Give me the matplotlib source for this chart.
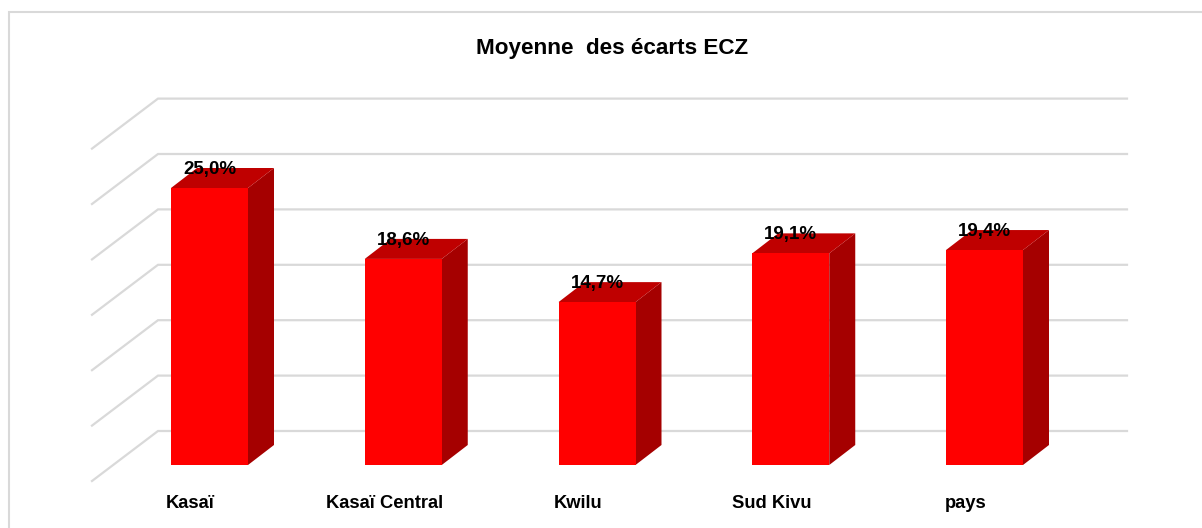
import matplotlib
matplotlib.use("Agg")
import matplotlib.pyplot as plt
from matplotlib.patches import Polygon

plt.rcParams["font.family"] = ["Liberation Sans", "DejaVu Sans"]

CATEGORIES = ["Kasaï", "Kasaï Central", "Kwilu", "Sud Kivu", "pays"]
VALUES = [25.0, 18.6, 14.7, 19.1, 19.4]
LABELS = ["25,0%", "18,6%", "14,7%", "19,1%", "19,4%"]
GRID_VALUES = [0, 5, 10, 15, 20, 25, 30]

GRID_COLOR = "#D9D9D9"
FRONT = "#FF0000"
TOP = "#BF0000"
SIDE = "#A50000"

W, H = 1202, 528
STEP_PX = 193.75
UNIT_PX = 11.08
X0_PX = 209.5
Y0_PX = 465

BAR_W = 77 / STEP_PX
DX = 26 / STEP_PX
DY = 20 / UNIT_PX
# floor of the side wall, offsets from the bar base
BACK_Y = 34 / UNIT_PX
FRONT_Y = -16 / UNIT_PX
BACK_X = (158 - X0_PX) / STEP_PX
FRONT_X = (92 - X0_PX) / STEP_PX
RIGHT_X = (1127 - X0_PX) / STEP_PX
# category labels sit left of their bars
CAT_SHIFT = -19 / STEP_PX


def main():
    fig = plt.figure(figsize=(W / 100, H / 100), dpi=100)
    ax = fig.add_axes([0, 0, 1, 1])
    ax.set_xlim(-X0_PX / STEP_PX, (W - X0_PX) / STEP_PX)
    ax.set_ylim((Y0_PX - H) / UNIT_PX, Y0_PX / UNIT_PX)
    ax.axis("off")

    # frame of the chart area
    to_x = lambda px: (px - X0_PX) / STEP_PX
    to_y = lambda py: (Y0_PX - py) / UNIT_PX
    ax.plot([to_x(9), to_x(9), to_x(1202)], [to_y(528), to_y(12), to_y(12)],
            color=GRID_COLOR, lw=1.5, zorder=1, solid_joinstyle="miter")

    for v in GRID_VALUES:
        ax.plot([FRONT_X, BACK_X, RIGHT_X],
                [v + FRONT_Y, v + BACK_Y, v + BACK_Y],
                color=GRID_COLOR, lw=1.6, zorder=1, solid_joinstyle="miter")

    for i, (val, lab, cat) in enumerate(zip(VALUES, LABELS, CATEGORIES)):
        l = i - BAR_W / 2
        r = i + BAR_W / 2
        ax.add_patch(Polygon([(r, 0), (r + DX, DY), (r + DX, val + DY), (r, val)],
                             facecolor=SIDE, edgecolor="none", zorder=2))
        ax.add_patch(Polygon([(l, val), (r, val), (r + DX, val + DY), (l + DX, val + DY)],
                             facecolor=TOP, edgecolor="none", zorder=2))
        ax.add_patch(Polygon([(l, 0), (r, 0), (r, val), (l, val)],
                             facecolor=FRONT, edgecolor="none", zorder=3))
        ax.text(i, val + 1.68, lab, ha="center", va="center",
                fontsize=13.5, fontweight="bold", color="black", zorder=4)
        ax.text(i + CAT_SHIFT, to_y(504), cat, ha="center", va="center",
                fontsize=13.2, fontweight="bold", color="black", zorder=4)

    ax.text(to_x(612), to_y(48.5), "Moyenne  des écarts ECZ", ha="center", va="center",
            fontsize=16.2, fontweight="bold", color="black")

    fig.savefig("out.png", dpi=100, facecolor="white")
    plt.close(fig)


if __name__ == "__main__":
    main()
